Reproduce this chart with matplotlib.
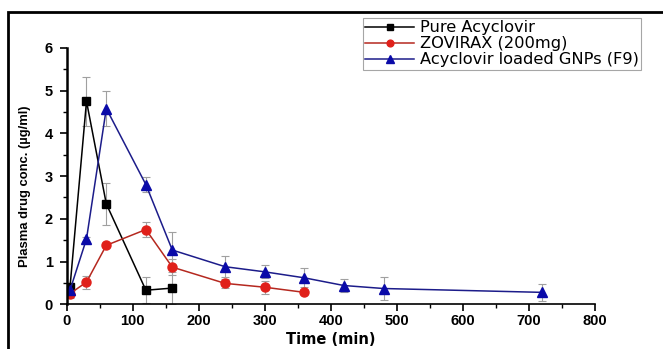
import matplotlib.pyplot as plt
from matplotlib.patches import Rectangle
from matplotlib.ticker import MultipleLocator

# time points (min)
t_pure = [5, 30, 60, 120, 160]
t_zov = [5, 30, 60, 120, 160, 240, 300, 360]
t_gnp = [5, 30, 60, 120, 160, 240, 300, 360, 420, 480, 720]

# plasma conc (ug/ml) and SD
pure = [0.40, 4.75, 2.35, 0.33, 0.38]
pure_sd = [0.10, 0.57, 0.49, 0.30, 0.38]
zov = [0.25, 0.52, 1.38, 1.75, 0.87, 0.49, 0.40, 0.28]
zov_sd = [0.10, 0.15, 0.05, 0.18, 0.18, 0.10, 0.15, 0.05]
gnp = [0.33, 1.53, 4.58, 2.80, 1.27, 0.88, 0.76, 0.62, 0.44, 0.37, 0.28]
gnp_sd = [0.10, 0.05, 0.42, 0.18, 0.42, 0.24, 0.15, 0.22, 0.15, 0.26, 0.20]

labels = ['Pure Acyclovir', 'ZOVIRAX (200mg)', 'Acyclovir loaded GNPs (F9)']

plt.rcParams['font.family'] = ['Liberation Sans', 'DejaVu Sans']

fig = plt.figure(figsize=(6.63, 3.49), dpi=100)
ax = fig.add_axes([0.1006, 0.128, 0.7964, 0.735])

err_kw = dict(ecolor='#a0a0a0', elinewidth=0.8, capsize=3, capthick=0.8)
l1 = ax.errorbar(t_pure, pure, yerr=pure_sd, color='black', marker='s', ms=6,
                 lw=1.1, label=labels[0], **err_kw)
l2 = ax.errorbar(t_zov, zov, yerr=zov_sd, color='#b5281f', mfc='#e0201a', mec='#e0201a',
                 marker='o', ms=6.5, lw=1.1, label=labels[1], **err_kw)
l3 = ax.errorbar(t_gnp, gnp, yerr=gnp_sd, color='#1c1c8a', mfc='#0a0aa8', mec='#0a0aa8',
                 marker='^', ms=7, lw=1.1, label=labels[2], **err_kw)

ax.set_xlim(0, 800)
ax.set_ylim(0, 6)
ax.xaxis.set_major_locator(MultipleLocator(100))
ax.xaxis.set_minor_locator(MultipleLocator(50))
ax.yaxis.set_major_locator(MultipleLocator(1))
ax.yaxis.set_minor_locator(MultipleLocator(0.5))
ax.spines['top'].set_visible(False)
ax.spines['right'].set_visible(False)
ax.spines['left'].set_linewidth(1.8)
ax.spines['bottom'].set_linewidth(1.2)
ax.tick_params(which='major', direction='out', length=5, width=1.2)
ax.tick_params(axis='x', which='major', pad=2)
ax.tick_params(axis='y', which='major', pad=5)
ax.tick_params(which='minor', direction='out', length=3, width=1.0)
for lab in ax.get_xticklabels() + ax.get_yticklabels():
    lab.set_fontweight('bold')
    lab.set_fontsize(10.5)

ax.set_xlabel('Time (min)', fontsize=10.5, fontweight='bold', labelpad=3,
              family=['DejaVu Sans'])
ax.set_ylabel('Plasma drug conc. (µg/ml)', fontsize=9.4, fontweight='bold')
ax.yaxis.set_label_coords(-0.068, 0.46)

handles = [l1[0], l2[0], l3[0]]
leg = fig.legend(handles, labels, loc='upper left', bbox_to_anchor=(363 / 663, 1 - 18 / 349),
                 frameon=True, fancybox=False, edgecolor='#909090',
                 prop={'family': 'DejaVu Sans', 'size': 11.7}, markerscale=0.75,
                 handlelength=3.0, handletextpad=0.35, labelspacing=0.06,
                 borderpad=0.15, borderaxespad=0)
leg.get_frame().set_linewidth(0.8)

# outer frame around the figure
fig.patches.append(Rectangle((8 / 663, -0.1), 1.1, 1.1 - 12 / 349, transform=fig.transFigure,
                             fill=False, edgecolor='black', lw=2, clip_on=False))

fig.savefig('out.png', dpi=100)
